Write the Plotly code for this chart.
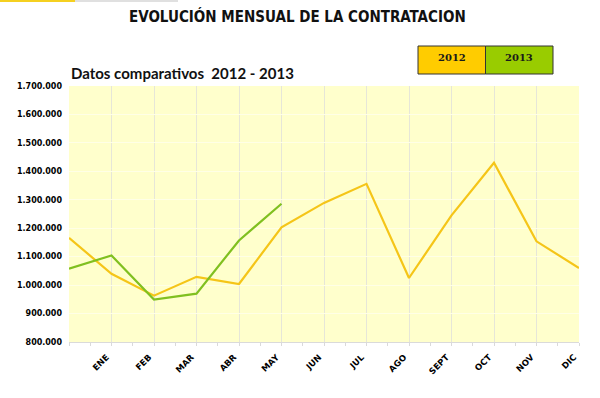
import plotly.graph_objects as go

categories = ["", "ENE", "FEB", "MAR", "ABR", "MAY", "JUN", "JUL", "AGO", "SEPT", "OCT", "NOV", "DIC"]
values_2012 = [1166000, 1040000, 963000, 1029000, 1004000, 1203000, 1289000, 1356000, 1025000, 1245000, 1430000, 1154000, 1060000]
values_2013 = [1058000, 1104000, 949000, 970000, 1157000, 1286000]
y_ticks = [800000, 900000, 1000000, 1100000, 1200000, 1300000, 1400000, 1500000, 1600000, 1700000]

x_pos = list(range(len(categories)))

fig = go.Figure()
fig.add_trace(go.Scatter(x=x_pos, y=values_2012, mode="lines", name="2012",
                         line=dict(color="#F5C518", width=2.2)))
fig.add_trace(go.Scatter(x=x_pos[:len(values_2013)], y=values_2013, mode="lines", name="2013",
                         line=dict(color="#80C020", width=2.2)))

fig.update_layout(
    width=600, height=398,
    margin=dict(l=69, r=21, t=86, b=56),
    paper_bgcolor="white",
    plot_bgcolor="#FFFFCC",
    showlegend=False,
    separators=",.",
    font=dict(family="DejaVu Sans", color="#000000"),
)
fig.update_xaxes(
    range=[0, len(categories) - 1],
    tickmode="array", tickvals=x_pos[1:], ticktext=["<b>%s</b>" % c for c in categories[1:]],
    tickangle=-45, tickfont=dict(size=8.5, family="DejaVu Sans"),
    ticklabelshift=-5, ticklabelstandoff=3,
    showgrid=True, gridcolor="#E6E6D8", gridwidth=1,
    showline=True, linecolor="#DADADA", linewidth=1,
    ticks="outside", ticklen=3, tickcolor="#DADADA",
    minor=dict(dtick=0.5, tick0=0, ticks="outside", ticklen=3, tickcolor="#DADADA", showgrid=False),
    zeroline=False,
)
fig.update_yaxes(
    range=[800000, 1700000],
    tickmode="array", tickvals=y_ticks,
    ticktext=["<b>%s</b>" % format(v, ",d").replace(",", ".") for v in y_ticks],
    tickfont=dict(size=8, family="DejaVu Sans"),
    showgrid=True, gridcolor="#FFFFE6", gridwidth=1,
    zeroline=False, ticks="", ticklabelstandoff=6,
)

# Title and subtitle
fig.add_annotation(text="<b>EVOLUCIÓN MENSUAL DE LA CONTRATACION</b>", xref="paper", yref="paper",
                   x=(297 - 69) / 510, y=(342 - 16) / 256, xanchor="center", yanchor="middle", showarrow=False,
                   font=dict(family="DejaVu Sans Condensed", size=15, color="#111111"))
fig.add_annotation(text="<b>Datos comparativos  2012 - 2013</b>", xref="paper", yref="paper",
                   x=0, y=(342 - 73) / 256, xanchor="left", yanchor="middle", showarrow=False,
                   font=dict(family="Lato", size=15, color="#111111"))

# Legend boxes (as in the reference, a two-cell table)
legend_items = [("2012", "#FFCC00"), ("2013", "#99CC00")]
x0_px, cell_w, y_top, y_bot = 418, 67.5, 46, 74
for i, (label, col) in enumerate(legend_items):
    xa = (x0_px + i * cell_w - 69) / 510
    xb = (x0_px + (i + 1) * cell_w - 69) / 510
    ya = (342 - y_bot) / 256
    yb = (342 - y_top) / 256
    fig.add_shape(type="rect", xref="paper", yref="paper", x0=xa, x1=xb, y0=ya, y1=yb,
                  fillcolor=col, line=dict(color="#333333", width=1))
    fig.add_annotation(text="<b>%s</b>" % label, xref="paper", yref="paper",
                       x=(xa + xb) / 2, y=(ya + yb) / 2 + 0.008, xanchor="center", yanchor="middle",
                       showarrow=False,
                       font=dict(family="DejaVu Serif", size=10, color="#1A1A1A"))

# top-left strip artifact
fig.add_shape(type="rect", xref="paper", yref="paper", x0=(0 - 69) / 510, x1=(75 - 69) / 510,
              y0=(342 - 2) / 256, y1=342 / 256, fillcolor="#F5D020", line=dict(width=0))
fig.add_shape(type="rect", xref="paper", yref="paper", x0=(75 - 69) / 510, x1=(178 - 69) / 510,
              y0=(342 - 2) / 256, y1=342 / 256, fillcolor="#E0E0E0", line=dict(width=0))

fig.write_html("out.html", config={"displayModeBar": False},
               post_script="document.body.style.margin='0';")
